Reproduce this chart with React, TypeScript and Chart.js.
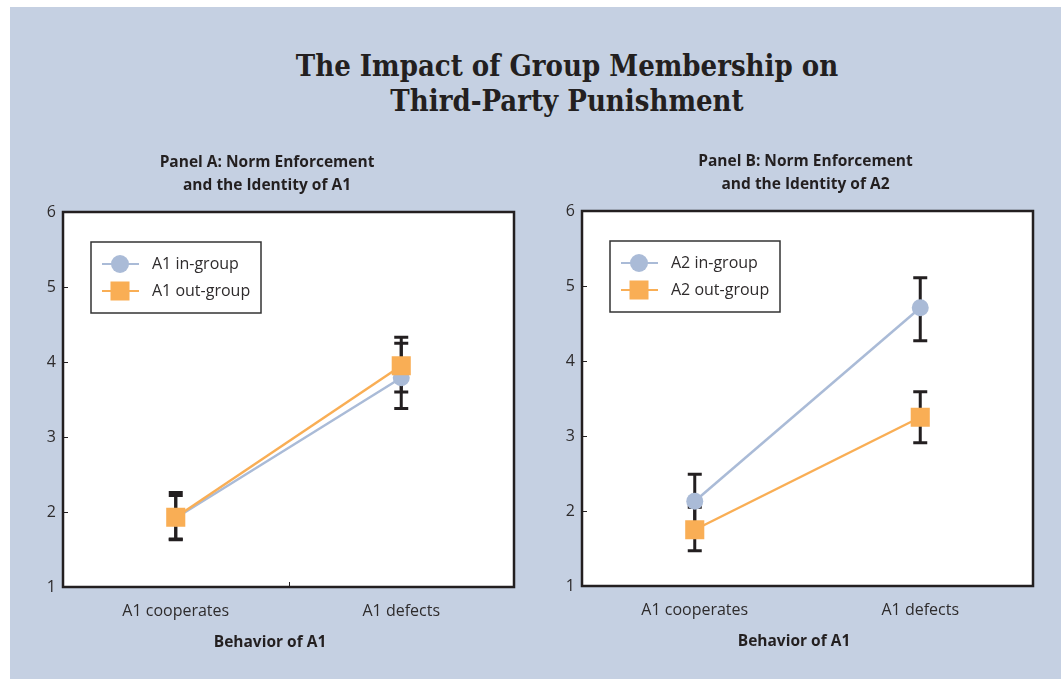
import React, { useEffect, useRef } from "react";
import { Chart, registerables } from "chart.js";

Chart.register(...registerables);

const mainTitle = ["The Impact of Group Membership on", "Third-Party Punishment"];
const categories = ["A1 cooperates", "A1 defects"];
const xAxisTitle = "Behavior of A1";
const yTicks = [1, 2, 3, 4, 5, 6];

const panelATitle = ["Panel A: Norm Enforcement", "and the Identity of A1"];
const panelALabels = ["A1 in-group", "A1 out-group"];
const panelAIn = [1.92, 3.79];
const panelAInLow = [1.63, 3.38];
const panelAInHigh = [2.22, 4.25];
const panelAOut = [1.93, 3.95];
const panelAOutLow = [1.64, 3.6];
const panelAOutHigh = [2.26, 4.33];

const panelBTitle = ["Panel B: Norm Enforcement", "and the Identity of A2"];
const panelBLabels = ["A2 in-group", "A2 out-group"];
const panelBIn = [2.13, 4.71];
const panelBInLow = [1.77, 4.27];
const panelBInHigh = [2.49, 5.11];
const panelBOut = [1.75, 3.25];
const panelBOutLow = [1.47, 2.91];
const panelBOutHigh = [2.05, 3.59];

const IN_COLOR = "#AABBD7";
const OUT_COLOR = "#F9AE55";
const INK = "#231F20";
const TEXT = "#2E2B2C";
const BG = "#C5D0E2";
const SANS = "'Open Sans', 'DejaVu Sans', sans-serif";

const framePlugin = {
  id: "frame",
  beforeDatasetsDraw(chart: any) {
    const { ctx } = chart;
    ctx.save();
    chart.data.datasets.forEach((ds: any, i: number) => {
      const meta = chart.getDatasetMeta(i);
      meta.data.forEach((pt: any, j: number) => {
        const y = chart.scales.y;
        const yl = y.getPixelForValue(ds.errLow[j]);
        const yh = y.getPixelForValue(ds.errHigh[j]);
        ctx.strokeStyle = INK;
        ctx.lineWidth = 3;
        ctx.beginPath();
        ctx.moveTo(pt.x, yl);
        ctx.lineTo(pt.x, yh);
        ctx.moveTo(pt.x - 7, yl);
        ctx.lineTo(pt.x + 7, yl);
        ctx.moveTo(pt.x - 7, yh);
        ctx.lineTo(pt.x + 7, yh);
        ctx.stroke();
      });
    });
    ctx.restore();
  },
  beforeDraw(chart: any) {
    const { ctx, chartArea: a } = chart;
    ctx.save();
    ctx.fillStyle = "#FFFFFF";
    ctx.fillRect(a.left, a.top, a.right - a.left, a.bottom - a.top);
    ctx.restore();
  },
  afterDraw(chart: any) {
    const { ctx, chartArea: a } = chart;
    const opts = chart.options.plugins.frame || {};
    const cx = (a.left + a.right) / 2;
    ctx.save();
    // panel title
    ctx.fillStyle = INK;
    ctx.font = `bold 15.5px ${SANS}`;
    ctx.textAlign = "center";
    ctx.textBaseline = "middle";
    (opts.title || []).forEach((line: string, i: number) => {
      ctx.fillText(line, cx + opts.titleShift, 22.5 + i * 23);
    });
    // frame
    ctx.strokeStyle = INK;
    ctx.lineWidth = 2.5;
    ctx.strokeRect(a.left, a.top, a.right - a.left, a.bottom - a.top);
    ctx.lineWidth = 1;
    const y = chart.scales.y;
    y.ticks.forEach((t: any) => {
      const py = Math.round(y.getPixelForValue(t.value)) + 0.5;
      ctx.beginPath();
      ctx.moveTo(a.left, py);
      ctx.lineTo(a.left + 5, py);
      ctx.stroke();
    });
    if (opts.midTick) {
      const mx = Math.round(cx) + 0.5;
      ctx.beginPath();
      ctx.moveTo(mx, a.bottom);
      ctx.lineTo(mx, a.bottom - 5);
      ctx.stroke();
    }
    // legend
    const bx = a.left + 28;
    const by = a.top + 30;
    ctx.lineWidth = 1.5;
    ctx.strokeStyle = "#333";
    ctx.strokeRect(bx, by, 170, 71);
    chart.data.datasets.forEach((ds: any) => {
      const idx = ds.legendRow;
      const cy = by + 22 + idx * 27;
      ctx.strokeStyle = ds.borderColor;
      ctx.lineWidth = 2;
      ctx.beginPath();
      ctx.moveTo(bx + 11, cy);
      ctx.lineTo(bx + 48, cy);
      ctx.stroke();
      ctx.fillStyle = ds.borderColor;
      if (ds.pointStyle === "rect") {
        ctx.fillRect(bx + 29 - 9.5, cy - 9.5, 19, 19);
      } else {
        ctx.beginPath();
        ctx.arc(bx + 29, cy, 9, 0, Math.PI * 2);
        ctx.fill();
      }
      ctx.fillStyle = TEXT;
      ctx.font = `16px ${SANS}`;
      ctx.textAlign = "left";
      ctx.textBaseline = "middle";
      ctx.fillText(ds.label, bx + 61, cy);
    });
    // x axis title
    ctx.fillStyle = INK;
    ctx.font = `bold 15.5px ${SANS}`;
    ctx.textAlign = "center";
    ctx.textBaseline = "middle";
    ctx.fillText(opts.xTitle, cx + opts.xTitleShift, a.bottom + 56);
    ctx.restore();
  },
};

function makeConfig(
  title: string[],
  labels: string[],
  inVals: number[],
  inLow: number[],
  inHigh: number[],
  outVals: number[],
  outLow: number[],
  outHigh: number[],
  yWidth: number,
  padRight: number,
  midTick: boolean,
  titleShift: number,
  xTitleShift: number
): any {
  return {
    type: "line",
    data: {
      labels: categories,
      datasets: [
        {
          label: labels[0],
          data: inVals,
          errLow: inLow,
          errHigh: inHigh,
          legendRow: 0,
          order: 1,
          borderColor: IN_COLOR,
          backgroundColor: IN_COLOR,
          borderWidth: 2.5,
          pointStyle: "circle",
          pointRadius: 8.5,
          pointBorderWidth: 0,
          pointBackgroundColor: IN_COLOR,
        },
        {
          label: labels[1],
          data: outVals,
          errLow: outLow,
          errHigh: outHigh,
          legendRow: 1,
          order: 0,
          borderColor: OUT_COLOR,
          backgroundColor: OUT_COLOR,
          borderWidth: 2.5,
          pointStyle: "rect",
          pointRadius: 13.5,
          pointBorderWidth: 0,
          pointBackgroundColor: OUT_COLOR,
        },
      ],
    },
    options: {
      responsive: false,
      animation: false,
      events: [],
      layout: { padding: { left: 0, right: padRight, top: 72, bottom: 0 } },
      plugins: {
        legend: { display: false },
        tooltip: { enabled: false },
        title: { display: false },
        frame: { midTick, xTitle: xAxisTitle, title, titleShift, xTitleShift },
      },
      scales: {
        x: {
          type: "category",
          offset: true,
          grid: { display: false, drawTicks: false },
          border: { display: false },
          ticks: { color: TEXT, font: { family: SANS, size: 16 }, padding: 15 },
          afterFit: (s: any) => {
            s.height = 83;
            s.paddingLeft = 0;
            s.paddingRight = 0;
          },
        },
        y: {
          type: "linear",
          min: yTicks[0],
          max: yTicks[yTicks.length - 1],
          grid: { display: false, drawTicks: false },
          border: { display: false },
          ticks: { stepSize: 1, color: TEXT, font: { family: SANS, size: 16 }, padding: 7 },
          afterFit: (s: any) => {
            s.width = yWidth;
            s.paddingTop = 0;
            s.paddingBottom = 0;
          },
        },
      },
    },
    plugins: [framePlugin],
  };
}

function Panel(props: { config: any; left: number; top: number; width: number; height: number }) {
  const ref = useRef<HTMLCanvasElement>(null);
  useEffect(() => {
    if (!ref.current) return;
    const chart = new Chart(ref.current, props.config);
    return () => chart.destroy();
  }, []);
  return (
    <canvas
      ref={ref}
      width={props.width}
      height={props.height}
      style={{ position: "absolute", left: props.left, top: props.top, width: props.width, height: props.height }}
    />
  );
}

export default function App() {
  const cfgA = makeConfig(panelATitle, panelALabels, panelAIn, panelAInLow, panelAInHigh, panelAOut, panelAOutLow, panelAOutHigh, 57, 14, true, -21.5, -18.5);
  const cfgB = makeConfig(panelBTitle, panelBLabels, panelBIn, panelBInLow, panelBInHigh, panelBOut, panelBOutLow, panelBOutHigh, 27, 23, false, -2, -13.5);
  return (
    <div style={{ position: "fixed", left: 0, top: 0, width: 1061, height: 679, background: "#FFFFFF", overflow: "hidden" }}>
      <div style={{ position: "absolute", left: 10, top: 7, right: 0, bottom: 0, background: BG }} />
      <div
        style={{
          position: "absolute",
          left: 0,
          width: 1134,
          top: 49,
          textAlign: "center",
          fontFamily: "'DejaVu Serif Condensed', 'DejaVu Serif', serif",
          fontWeight: "bold",
          fontSize: 29,
          lineHeight: "35px",
          color: INK,
        }}
      >
        {mainTitle.map((t) => (
          <div key={t}>{t}</div>
        ))}
      </div>
      <Panel config={cfgA} left={6} top={140} width={522} height={530} />
      <Panel config={cfgB} left={555} top={139} width={501} height={530} />
    </div>
  );
}
